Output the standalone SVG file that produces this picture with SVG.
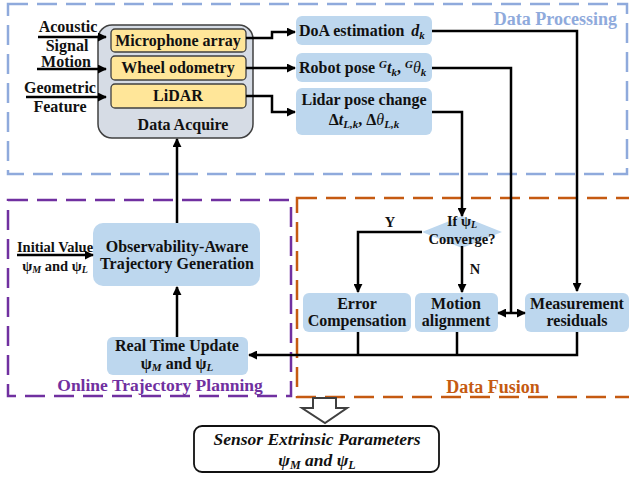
<svg xmlns="http://www.w3.org/2000/svg" width="629" height="478" viewBox="0 0 629 478">
<defs>
<marker id="ah" viewBox="0 0 10 10" refX="9" refY="5" markerWidth="9" markerHeight="9" markerUnits="userSpaceOnUse" orient="auto-start-reverse">
<path d="M0,0 L10,5 L0,10 z" fill="#000"/>
</marker>
<style>
text{font-family:"Liberation Serif","Times New Roman",serif;font-weight:bold;fill:#111;}
.c{text-anchor:middle;}
.s15{font-size:16px;}
.s14{font-size:14.5px;}
.m{font-style:italic;}
.blue{fill:#bdd7ee;}
.yel{fill:#ffe699;stroke:#404040;stroke-width:1.3;}
.ln{fill:none;stroke:#000;stroke-width:2.5;}
.arr{fill:none;stroke:#000;stroke-width:2.5;marker-end:url(#ah);}
.dash{fill:none;stroke-width:2.5;stroke-dasharray:20 9;}
</style>
</defs>

<!-- Region boxes -->
<g id="region-processing">
<rect class="dash" x="8" y="4" width="619" height="170" style="stroke:#8faadc"/>
<text x="617" y="25" style="font-size:18px;fill:#8faadc;text-anchor:end">Data Processing</text>
</g>
<g id="region-planning">
<rect class="dash" x="8" y="200" width="283" height="196" style="stroke:#7030a0"/>
<text x="160" y="391" class="c" style="font-size:17.5px;fill:#7030a0">Online Trajectory Planning</text>
</g>
<g id="region-fusion">
<rect class="dash" x="297" y="198" width="345" height="199" style="stroke:#c55a11"/>
<text x="493" y="393" class="c" style="font-size:18px;fill:#c55a11">Data Fusion</text>
</g>

<!-- Nodes -->
<g id="data-acquire">
<rect x="98" y="25" width="155" height="113" rx="14" fill="#d6dce5" stroke="#404040" stroke-width="1.5"/>
<text x="183" y="130" class="c s15">Data Acquire</text>
</g>
<g id="microphone">
<rect class="yel" x="111" y="29" width="135" height="23" rx="4"/>
<text x="178" y="46" class="c s15">Microphone array</text>
</g>
<g id="wheel">
<rect class="yel" x="111" y="56" width="135" height="24" rx="4"/>
<text x="178" y="73" class="c s15">Wheel odometry</text>
</g>
<g id="lidar">
<rect class="yel" x="111" y="84" width="135" height="24" rx="4"/>
<text x="178" y="101" class="c s15">LiDAR</text>
</g>

<g id="inputs">
<text x="68" y="32" class="c s15">Acoustic</text>
<text x="67" y="51" class="c s15">Signal</text>
<text x="66" y="67" class="c s15">Motion</text>
<text x="60" y="93" class="c s15">Geometric</text>
<text x="60" y="112" class="c s15">Feature</text>
</g>

<g id="doa">
<rect class="blue" x="296" y="16" width="136" height="29" rx="6"/>
<text x="299" y="36" class="s15">DoA estimation <tspan class="m" dx="3">d</tspan><tspan class="m" font-size="11" dy="3">k</tspan></text>
</g>
<g id="robot-pose">
<rect class="blue" x="296" y="53" width="136" height="29" rx="6"/>
<text x="299" y="73" class="s15">Robot pose <tspan class="m" font-size="11" dy="-5">G</tspan><tspan class="m" dy="5">t</tspan><tspan class="m" font-size="11" dy="3">k</tspan><tspan dy="-3">, </tspan><tspan class="m" font-size="11" dy="-5">G</tspan><tspan class="m" dy="5" style="font-weight:normal">θ</tspan><tspan class="m" font-size="11" dy="3">k</tspan></text>
</g>
<g id="lidar-pose">
<rect class="blue" x="296" y="88" width="136" height="47" rx="6"/>
<text x="364" y="105" class="c s15">Lidar pose change</text>
<text x="364" y="125" class="c s15">Δ<tspan class="m">t</tspan><tspan class="m" font-size="11" dy="3">L,k</tspan><tspan dy="-3">, Δ</tspan><tspan class="m" style="font-weight:normal">θ</tspan><tspan class="m" font-size="11" dy="3">L,k</tspan></text>
</g>

<g id="obs-traj">
<rect class="blue" x="93" y="223" width="167" height="63" rx="10"/>
<text x="177" y="252" class="c s15">Observability-Aware</text>
<text x="177" y="269" class="c s15">Trajectory Generation</text>
</g>
<g id="initial-value">
<text x="55" y="252" class="c s14">Initial Value</text>
<text x="55" y="271" class="c s14">ψ<tspan class="m" font-size="10" dy="2">M</tspan><tspan dy="-2"> and ψ</tspan><tspan class="m" font-size="10" dy="2">L</tspan></text>
</g>
<g id="real-time">
<rect class="blue" x="107" y="337" width="141" height="38" rx="6"/>
<text x="177" y="351" class="c s15">Real Time Update</text>
<text x="177" y="369" class="c s15">ψ<tspan class="m" font-size="11" dy="2">M</tspan><tspan dy="-2"> and ψ</tspan><tspan class="m" font-size="11" dy="2">L</tspan></text>
</g>

<g id="converge">
<polygon class="blue" points="422,232 462,216 502,232 462,248"/>
<text x="462" y="226" class="c s14">If  ψ<tspan class="m" font-size="10" dy="2">L</tspan></text>
<text x="462" y="244" class="c s14">Converge?</text>
</g>
<g id="error-comp">
<rect class="blue" x="303" y="293" width="108" height="39" rx="6"/>
<text x="357" y="309" class="c s15">Error</text>
<text x="357" y="326" class="c s15">Compensation</text>
</g>
<g id="motion-align">
<rect class="blue" x="415" y="293" width="83" height="39" rx="6"/>
<text x="456" y="309" class="c s15">Motion</text>
<text x="456" y="326" class="c s15">alignment</text>
</g>
<g id="measurement">
<rect class="blue" x="525" y="293" width="104" height="39" rx="6"/>
<text x="577" y="309" class="c s15">Measurement</text>
<text x="577" y="326" class="c s15">residuals</text>
</g>

<g id="sensor-params">
<rect x="194" y="426" width="245" height="46" rx="8" fill="#fff" stroke="#111" stroke-width="1.8"/>
<text x="317" y="445" class="c m" style="font-size:17.5px">Sensor Extrinsic Parameters</text>
<text x="317" y="466" class="c m" style="font-size:17.5px">ψ<tspan font-size="12" dy="3">M</tspan><tspan dy="-3"> and ψ</tspan><tspan font-size="12" dy="3">L</tspan></text>
</g>

<!-- Connectors -->
<g id="connectors">
<line class="arr" x1="38" y1="37" x2="106" y2="37"/>
<line class="arr" x1="37" y1="69" x2="106" y2="69"/>
<line class="arr" x1="26" y1="97" x2="106" y2="97"/>
<polyline class="arr" points="246,38 272,38 272,32 295,32"/>
<line class="arr" x1="246" y1="68" x2="295" y2="68"/>
<polyline class="arr" points="246,96 272,96 272,112 295,112"/>
<polyline class="arr" points="432,31 577,31 577,291"/>
<polyline class="ln" points="432,68 511,68 511,313"/>
<polyline class="arr" points="432,112 462,112 462,216"/>
<polyline class="arr" points="422,232 358,232 358,292"/>
<text x="390" y="227" class="c s14">Y</text>
<line class="arr" x1="462" y1="246" x2="462" y2="292"/>
<text x="475" y="274" class="c s14">N</text>
<line class="arr" x1="511" y1="313" x2="498" y2="313"/>
<line class="arr" x1="511" y1="313" x2="525" y2="313"/>
<line class="ln" x1="358" y1="332" x2="358" y2="355"/>
<line class="ln" x1="457" y1="332" x2="457" y2="355"/>
<polyline class="arr" points="577,332 577,355 249,355"/>
<line class="arr" x1="177" y1="337" x2="177" y2="287"/>
<line class="arr" x1="177" y1="223" x2="177" y2="139"/>
<line class="arr" x1="17" y1="255" x2="93" y2="255"/>
<polygon points="313,398 336,398 336,408 347,408 325,423 302,408 313,408" fill="#fff" stroke="#404040" stroke-width="2"/>
</g>
</svg>
